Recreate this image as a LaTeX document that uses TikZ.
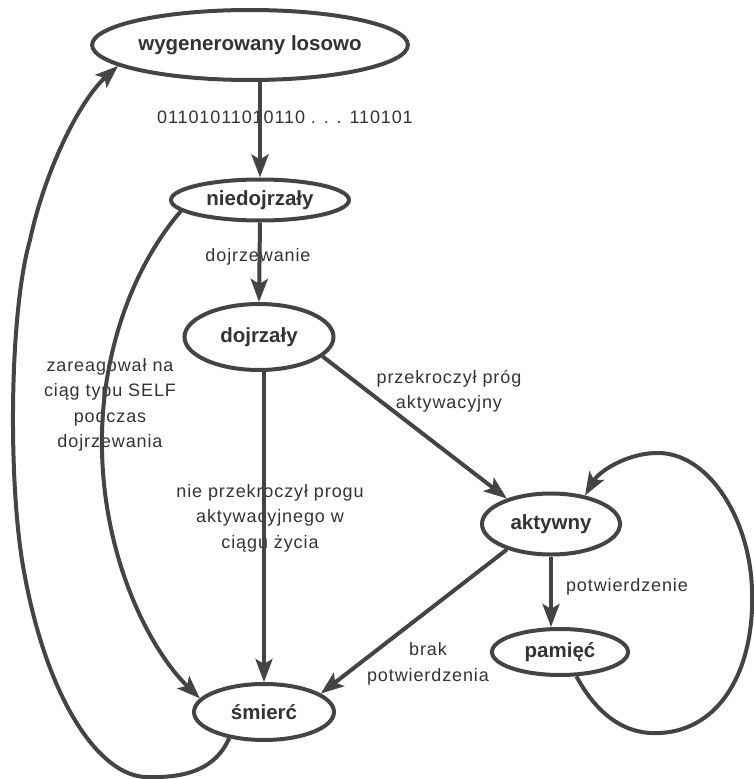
\documentclass[tikz,border=0pt]{standalone}
\usepackage{fontspec}
\setmainfont{Liberation Sans}
\newfontfamily\lblfont[LetterSpace=5]{Liberation Sans}
\usetikzlibrary{shapes.geometric,arrows.meta}
\definecolor{ln}{HTML}{444444}
\definecolor{tx}{HTML}{333333}
\tikzset{
  state/.style={ellipse, draw=ln, line width=4pt, inner sep=0pt, text=tx,
    font=\fontsize{20.5}{24}\selectfont\bfseries},
  conn/.style={draw=ln, line width=4pt, -{Stealth[length=23pt,width=17pt,inset=5pt]}},
  lbl/.style={text=tx, align=center, inner sep=0pt,
    font=\lblfont\fontsize{18}{25.5}\selectfont}
}
\begin{document}
\begin{tikzpicture}[x=1pt,y=-1pt]
\useasboundingbox (0,0) rectangle (753,779);
\node[state, minimum width=280pt, minimum height=70pt] (w) at (250,45) {wygenerowany losowo};
\node[state, minimum width=178pt, minimum height=41pt] (n) at (260,200) {niedojrzały};
\node[state, minimum width=149pt, minimum height=66pt] (d) at (259,337) {dojrzały};
\node[state, minimum width=138pt, minimum height=61pt] (a) at (551,524) {aktywny};
\node[state, minimum width=136pt, minimum height=46pt] (p) at (560,652) {pamięć};
\node[state, minimum width=140pt, minimum height=56pt] (s) at (264,712) {śmierć};

\node[lbl] (l1) at (285,117) {01101011010110 . . . 110101};
\node[lbl] (l2) at (258,257) {dojrzewanie};
\node[lbl] (l3) at (449,391) {przekroczył próg\\aktywacyjny};
\node[lbl] (l4) at (270,518) {nie przekroczył progu\\aktywacyjnego w\\ciągu życia};
\node[lbl] (l5) at (110,405) {zareagował na\\ciąg typu SELF\\podczas\\dojrzewania};
\node[lbl] (l6) at (627,587) {potwierdzenie};
\node[lbl] (l7) at (428,664) {brak\\potwierdzenia};

\draw[conn] (n.north |- w.south) -- (n.north);
\draw[conn] (n.south) -- (d.north);
\draw[conn] (s.north |- d.south) -- (s.north);
\draw[conn] (d.-17) -- (a.150);
\draw[conn] (a.210) -- (s.18);
\draw[conn] (a.south) -- (a.south |- p.north);
\draw[conn] (n.188) .. controls (130,270) and (100,360) .. (102,450)
  .. controls (104,560) and (150,650) .. (s.168);
\draw[conn] (s.217) .. controls (215,770) and (185,778) .. (147,777)
  .. controls (100,777) and (45,700) .. (22,560)
  .. controls (8,470) and (10,310) .. (30,240)
  .. controls (45,170) and (80,100) .. (w.189);
\draw[conn] (p.-56) .. controls (600,720) and (630,735) .. (660,733)
  .. controls (720,730) and (755,670) .. (752,590)
  .. controls (750,520) and (710,455) .. (660,453)
  .. controls (630,452) and (600,470) .. (a.40);
\end{tikzpicture}
\end{document}
